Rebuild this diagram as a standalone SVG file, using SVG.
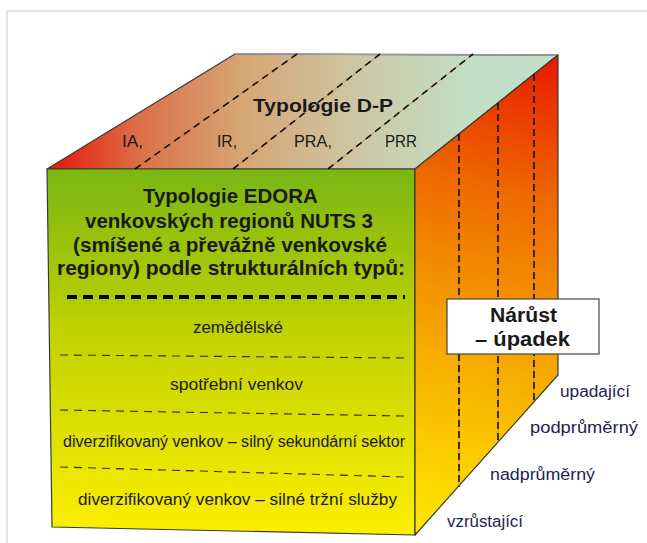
<svg xmlns="http://www.w3.org/2000/svg" width="647" height="543" viewBox="0 0 647 543">
<defs>
<linearGradient id="gTop" gradientUnits="userSpaceOnUse" x1="47" y1="0" x2="558" y2="0">
<stop offset="0" stop-color="#e4150a"/>
<stop offset="0.18" stop-color="#dc7048"/>
<stop offset="0.38" stop-color="#d6a574"/>
<stop offset="0.62" stop-color="#ccc9a6"/>
<stop offset="0.82" stop-color="#c2dec4"/>
<stop offset="1" stop-color="#c0e0c8"/>
</linearGradient>
<linearGradient id="gFront" gradientUnits="userSpaceOnUse" x1="0" y1="170" x2="0" y2="532">
<stop offset="0" stop-color="#7ab614"/>
<stop offset="0.45" stop-color="#c2d200"/>
<stop offset="1" stop-color="#fbef00"/>
</linearGradient>
<linearGradient id="gRight" gradientUnits="userSpaceOnUse" x1="558" y1="55" x2="440" y2="530">
<stop offset="0" stop-color="#e81800"/>
<stop offset="0.3" stop-color="#ee6a00"/>
<stop offset="0.65" stop-color="#f6ac00"/>
<stop offset="1" stop-color="#ffe600"/>
</linearGradient>
<style>
.edge{stroke:#3a3a3a;stroke-width:1.2;stroke-linejoin:round}
.dTop{stroke:#111;stroke-width:1.6;stroke-dasharray:7 5;fill:none}
.dRight{stroke:#111;stroke-width:1.6;stroke-dasharray:7 4;fill:none}
.thin{stroke:#e25a30;stroke-width:0.6;fill:none}
.dFront{stroke:#2a2a2a;stroke-width:1.1;stroke-dasharray:8 6;fill:none}
.t{font-family:"Liberation Sans",Arial,sans-serif;fill:#1a1a1a}
.b{font-weight:bold}
.lab{font-family:"Liberation Sans",Arial,sans-serif;fill:#1e2450;font-size:16px}
</style>
</defs>
<rect x="0" y="0" width="647" height="543" fill="#ffffff"/>
<rect id="frame" x="7" y="11" width="660" height="560" fill="none" stroke="#d9d9d9" stroke-width="1.5"/>

<g id="top-face">
<polygon class="edge" points="47,169 235,54 558,55 415,169" fill="url(#gTop)"/>
<line x1="235" y1="54" x2="558" y2="55" stroke="#9a9a9a" stroke-width="1.5"/>
<text class="t b" x="253" y="112" font-size="19" textLength="140" lengthAdjust="spacingAndGlyphs">Typologie D-P</text>
<text class="t" x="122" y="147" font-size="17" fill="#333" textLength="21" lengthAdjust="spacingAndGlyphs">IA,</text>
<text class="t" x="217" y="147" font-size="17" fill="#333" textLength="20" lengthAdjust="spacingAndGlyphs">IR,</text>
<text class="t" x="294" y="147" font-size="17" fill="#333" textLength="38" lengthAdjust="spacingAndGlyphs">PRA,</text>
<text class="t" x="385" y="147" font-size="17" fill="#333" textLength="32" lengthAdjust="spacingAndGlyphs">PRR</text>
</g>

<g id="front-face">
<polygon class="edge" points="47,169 415,169 415,535 52,527" fill="url(#gFront)"/>
<text class="t b" font-size="19.5">
<tspan x="143" y="203" textLength="174" lengthAdjust="spacingAndGlyphs">Typologie EDORA</tspan>
<tspan x="85" y="228" textLength="288" lengthAdjust="spacingAndGlyphs">venkovských regionů NUTS 3</tspan>
<tspan x="73" y="252" textLength="314" lengthAdjust="spacingAndGlyphs">(smíšené a převážně venkovské</tspan>
<tspan x="57" y="275" textLength="348" lengthAdjust="spacingAndGlyphs">regiony) podle strukturálních typů:</tspan>
</text>
<line x1="67" y1="297" x2="405" y2="297" stroke="#000" stroke-width="4" stroke-dasharray="10 6"/>
<text class="t" x="193" y="333" font-size="16" textLength="90" lengthAdjust="spacingAndGlyphs">zemědělské</text>
<text class="t" x="170" y="390" font-size="16" textLength="133" lengthAdjust="spacingAndGlyphs">spotřební venkov</text>
<text class="t" x="63" y="447" font-size="16" textLength="342" lengthAdjust="spacingAndGlyphs">diverzifikovaný venkov – silný sekundární sektor</text>
<text class="t" x="78" y="505" font-size="16" textLength="319" lengthAdjust="spacingAndGlyphs">diverzifikovaný venkov – silné tržní služby</text>
</g>

<g id="right-face">
<polygon class="edge" points="415,169 558,55 558,375 415,535" fill="url(#gRight)"/>
</g>

<g id="connectors">
<line class="thin" x1="135" y1="169" x2="297" y2="54"/>
<line class="thin" x1="233" y1="169" x2="380" y2="54"/>
<line class="thin" x1="328" y1="169" x2="473" y2="54"/>
<line class="dTop" x1="135" y1="169" x2="297" y2="54"/>
<line class="dTop" x1="233" y1="169" x2="380" y2="54"/>
<line class="dTop" x1="328" y1="169" x2="473" y2="54"/>
<line class="thin" x1="459" y1="134" x2="459" y2="487"/>
<line class="thin" x1="498" y1="103" x2="498" y2="442"/>
<line class="thin" x1="534" y1="74" x2="534" y2="402"/>
<line class="dRight" x1="459" y1="134" x2="459" y2="487"/>
<line class="dRight" x1="498" y1="103" x2="498" y2="442"/>
<line class="dRight" x1="534" y1="74" x2="534" y2="402"/>
<path class="dFront" d="M60,355 L405,358"/>
<path class="dFront" d="M60,410 L405,416"/>
<path class="dFront" d="M60,467 L405,477"/>
</g>

<g id="box-narust">
<rect x="447" y="299" width="152" height="55" fill="#ffffff" stroke="#444" stroke-width="1.2"/>
<text class="t b" x="490" y="322" font-size="20" textLength="67" lengthAdjust="spacingAndGlyphs">Nárůst</text>
<text class="t b" x="475" y="346" font-size="20" textLength="95" lengthAdjust="spacingAndGlyphs">– úpadek</text>
</g>

<g id="labels">
<text class="lab" x="560" y="397" textLength="70" lengthAdjust="spacingAndGlyphs">upadající</text>
<text class="lab" x="530" y="433" textLength="108" lengthAdjust="spacingAndGlyphs">podprůměrný</text>
<text class="lab" x="490" y="480" textLength="105" lengthAdjust="spacingAndGlyphs">nadprůměrný</text>
<text class="lab" x="447" y="527" textLength="76" lengthAdjust="spacingAndGlyphs">vzrůstající</text>
</g>
</svg>
